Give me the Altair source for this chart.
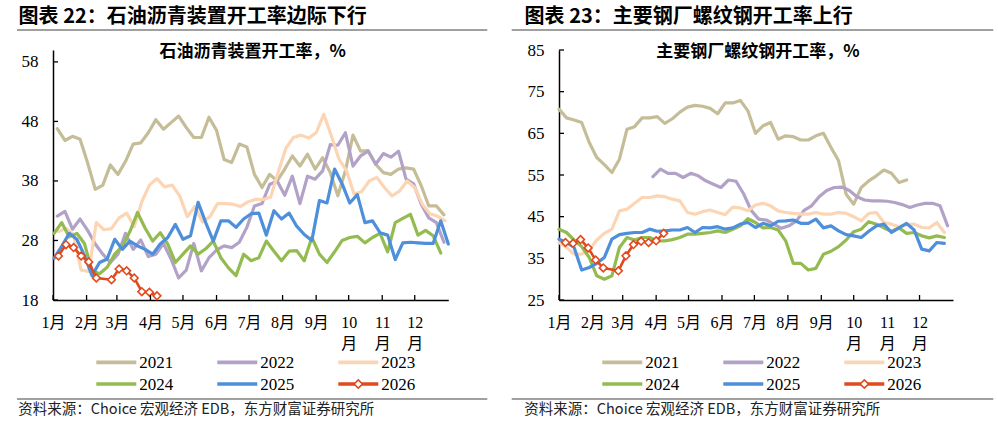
import altair as alt
import pandas as pd

# ---------------- data ----------------
YEARS = ["2021", "2022", "2023", "2024", "2025", "2026"]
COLORS = ["#C4BD97", "#B3A2C7", "#FCD5B5", "#94BB50", "#4D8FDA", "#E04A1E"]
MONTH_LABELS = ["1月", "2月", "3月", "4月", "5月", "6月", "7月", "8月", "9月", "10月", "11月", "12月"]
MONTH_START_DAYS = [0, 31, 59, 90, 120, 151, 181, 212, 243, 273, 304, 334]
DAYS_IN_YEAR = 365

SOURCE = "资料来源：Choice 宏观经济 EDB，东方财富证券研究所"

# Left: asphalt plant operating rate (weekly readings)
ASPHALT_HEADER = "图表 22：石油沥青装置开工率边际下行"
ASPHALT_TITLE = "石油沥青装置开工率，%"
ASPHALT_Y_TICKS = [18, 28, 38, 48, 58]
ASPHALT_Y_DOMAIN = [18, 60]
ASPHALT_FIRST_DAY = [4, 4, 5, 1, 1, 5]
ASPHALT_2021 = [46.8, 44.8, 45.5, 45.0, 41.0, 36.6, 37.3, 40.7, 39.1, 41.3,
                44.2, 44.4, 46.1, 48.3, 46.7, 47.8, 48.9, 47.0, 45.3, 45.3,
                48.7, 46.5, 41.6, 41.1, 44.2, 43.7, 39.1, 36.9, 39.1, 38.0,
                40.0, 42.2, 40.5, 42.5, 40.0, 41.9, 39.4, 35.5, 39.7, 45.7,
                43.0, 43.1, 40.8, 39.4, 39.1, 40.0, 40.2, 40.0, 37.2, 33.8,
                33.8, 32.3]
ASPHALT_2022 = [32.1, 32.9, 29.9, 31.6, 29.7, 27.4, 25.7, 24.3, 25.7, 29.2,
                26.5, 28.1, 25.3, 25.7, 27.5, 24.9, 21.7, 23.0, 27.5, 22.9,
                25.1, 26.4, 27.1, 26.8, 27.7, 30.2, 33.8, 34.2, 37.4, 38.0,
                35.6, 38.8, 34.2, 38.8, 38.3, 39.7, 44.1, 44.0, 46.1, 40.5,
                42.2, 43.0, 40.8, 42.6, 42.0, 43.0, 38.3, 37.5, 34.1, 31.8,
                31.0, 27.7]
ASPHALT_2023 = [29.5, 30.0, 29.0, 23.0, 22.8, 31.0, 29.8, 30.0, 31.8, 32.6,
                30.3, 34.5, 37.3, 38.4, 37.0, 37.3, 35.5, 32.0, 33.7, 31.1,
                32.0, 34.2, 34.2, 34.1, 33.7, 34.5, 34.9, 34.9, 35.3, 39.5,
                43.5, 45.3, 45.7, 45.2, 46.1, 49.2, 45.6, 41.7, 39.7, 35.8,
                36.2, 38.0, 38.6, 36.9, 35.5, 36.3, 38.0, 36.9, 34.1, 32.5,
                32.1, 31.3]
ASPHALT_2024 = [29.2, 31.0, 28.6, 29.2, 27.5, 22.9, 22.4, 23.5, 25.7, 27.0,
                29.5, 32.7, 30.1, 27.9, 29.3, 27.4, 24.3, 25.7, 27.1, 25.7,
                26.6, 27.9, 25.1, 23.4, 22.1, 25.7, 24.6, 25.1, 27.9, 26.2,
                24.6, 26.2, 26.3, 24.6, 28.5, 25.7, 24.3, 26.1, 28.0, 28.5,
                28.7, 27.6, 28.5, 29.2, 26.1, 31.0, 31.7, 32.4, 28.9, 29.7,
                28.8, 25.9]
ASPHALT_2025 = [25.0, 27.0, 29.2, 28.2, 25.5, 22.1, 24.3, 24.9, 28.2, 26.5,
                27.9, 27.1, 26.5, 25.7, 27.4, 28.5, 30.7, 28.2, 28.8, 34.4,
                31.0, 27.9, 31.3, 31.3, 30.2, 31.6, 32.5, 32.6, 28.9, 33.0,
                31.6, 32.6, 30.4, 29.0, 28.0, 34.7, 34.3, 40.0, 37.5, 34.3,
                35.7, 31.0, 31.3, 29.3, 28.9, 24.8, 27.6, 27.7, 27.6, 27.5,
                27.5, 31.3, 27.4]
ASPHALT_2026 = [25.4, 27.3, 26.8, 25.4, 24.4, 21.7, None, 21.4, 23.2, 22.9,
                21.7, 19.4, 19.3, 18.7]

# Right: rebar operating rate at major steel mills (weekly readings)
REBAR_HEADER = "图表 23：主要钢厂螺纹钢开工率上行"
REBAR_TITLE = "主要钢厂螺纹钢开工率，%"
REBAR_Y_TICKS = [25, 35, 45, 55, 65, 75, 85]
REBAR_Y_DOMAIN = [25, 85]
REBAR_FIRST_DAY = [0, 87, 0, 0, 0, 6]
REBAR_2021 = [70.8, 68.7, 68.2, 67.6, 62.8, 59.2, 57.5, 55.6, 58.8, 66.0,
              66.6, 68.7, 68.7, 69.0, 67.4, 68.5, 70.1, 71.3, 71.7, 71.5,
              71.0, 69.7, 72.3, 72.3, 72.9, 70.4, 65.0, 66.8, 67.6, 63.6,
              64.4, 64.2, 63.4, 63.4, 64.4, 65.0, 61.6, 58.4, 50.4, 48.0,
              52.0, 53.6, 54.8, 56.2, 55.4, 53.2, 53.8]
REBAR_2022 = [54.6, 56.4, 55.4, 55.4, 54.4, 55.4, 54.8, 53.6, 52.8, 52.0,
              53.8, 53.5, 50.5, 46.5, 44.4, 44.2, 43.2, 42.2, 42.8, 44.0,
              46.5, 47.6, 49.8, 51.3, 52.0, 52.1, 51.3, 49.8, 49.0, 48.8,
              48.8, 48.7, 48.4, 47.9, 47.2, 47.8, 48.2, 48.2, 47.6, 42.8]
REBAR_2023 = [38.8, 37.6, 36.0, 36.0, 37.0, 39.4, 41.0, 42.0, 46.4, 46.8,
              48.2, 49.6, 49.6, 50.0, 49.8, 49.2, 48.8, 46.0, 45.6, 46.2,
              46.6, 46.0, 45.5, 47.3, 47.1, 46.4, 47.8, 48.2, 47.6, 46.4,
              46.0, 45.8, 45.6, 45.6, 46.0, 45.6, 45.6, 46.0, 45.8, 45.0,
              44.0, 45.8, 46.0, 43.6, 43.2, 42.6, 43.1, 43.2, 42.4, 42.3,
              43.6, 41.2]
REBAR_2024 = [42.0, 41.2, 39.4, 37.8, 35.2, 30.8, 30.0, 30.8, 37.6, 40.0,
              39.4, 40.0, 40.0, 39.2, 39.2, 39.5, 40.0, 40.8, 40.8, 41.0,
              41.2, 41.6, 41.2, 42.0, 42.8, 44.5, 43.6, 42.3, 42.4, 41.8,
              39.2, 33.8, 33.8, 32.2, 32.6, 36.0, 36.7, 37.8, 39.4, 41.4,
              42.0, 43.8, 43.2, 42.3, 41.5, 42.3, 41.0, 41.2, 40.4, 39.9,
              40.4, 40.0]
REBAR_2025 = [39.6, 38.8, 37.6, 32.2, 32.8, 33.8, 35.2, 39.6, 40.7, 41.0,
              41.2, 41.2, 42.0, 41.5, 41.6, 41.8, 41.8, 42.4, 41.2, 42.4,
              42.3, 42.6, 42.0, 42.3, 43.2, 43.6, 42.4, 43.4, 42.8, 43.9,
              44.0, 44.2, 43.4, 43.4, 44.4, 42.3, 42.8, 41.6, 40.7, 40.4,
              40.0, 41.5, 42.8, 43.2, 41.2, 42.3, 43.4, 41.8, 37.2, 36.8,
              38.8, 38.6]
REBAR_2026 = [38.8, 38.6, 39.5, 37.5, 34.6, 32.7, None, 32.0, 35.6, 38.3,
              39.1, 38.8, 39.2, 41.0]

SERIF = "Liberation Serif, Noto Sans CJK SC"
CJK = "Noto Sans CJK SC"
H = 250


def weekly_table(series, first_days):
    rows = []
    for year, values, first in zip(YEARS, series, first_days):
        for i, v in enumerate(values):
            if v is not None:
                rows.append({"year": year, "day": first + 7 * i, "value": v})
    return pd.DataFrame(rows)


def month_label_expr():
    parts = []
    for lbl in MONTH_LABELS:
        num = lbl[:-1]
        if len(num) > 1:
            parts.append("['%s','%s']" % (num, lbl[-1]))
        else:
            parts.append("'%s'" % lbl)
    days = ",".join(str(d) for d in MONTH_START_DAYS)
    return "[" + ",".join(parts) + "][indexof([" + days + "], datum.value)]"


def one_row():
    return pd.DataFrame({"k": [0]})


def panel(df, y_ticks, y_domain, header, title, width, rule_left, anchor):
    xs = alt.Scale(domain=[0, DAYS_IN_YEAR], nice=False, zero=False)
    ys = alt.Scale(domain=y_domain, nice=False, zero=False)
    x_axis = alt.Axis(values=MONTH_START_DAYS, labelExpr=month_label_expr(), ticks=False,
                      grid=False, domainColor="black", domainWidth=1.5, labelFont=SERIF,
                      labelFontSize=16, labelColor="black", labelPadding=14, labelAngle=0,
                      labelAlign="center", labelBaseline="top", labelLineHeight=21,
                      labelOverlap=False, labelFlush=False, title=None)
    y_axis = alt.Axis(values=y_ticks, ticks=False, grid=False, domainColor="black",
                      domainWidth=1.5, labelFont=SERIF, labelFontSize=17, labelColor="black",
                      labelPadding=15, labelOverlap=False, labelFlush=False, title=None)

    def X(field):
        return alt.X(field, scale=xs, axis=x_axis)

    def Y(field):
        return alt.Y(field, scale=ys, axis=y_axis)

    hist = df[df["year"] != YEARS[-1]]
    cur = df[df["year"] == YEARS[-1]]

    lines = alt.Chart(hist).mark_line(strokeWidth=3.2, strokeJoin="round", strokeCap="round").encode(
        x=X("day:Q"), y=Y("value:Q"),
        color=alt.Color("year:N", scale=alt.Scale(domain=YEARS, range=COLORS), legend=None),
    )
    cur_line = alt.Chart(cur).mark_line(strokeWidth=2.6, color=COLORS[-1], strokeJoin="round").encode(
        x=X("day:Q"), y=Y("value:Q"))
    cur_pts = alt.Chart(cur).mark_point(shape="diamond", filled=True, fill="white",
                                        stroke=COLORS[-1], strokeWidth=1.6, size=60,
                                        opacity=1).encode(x=X("day:Q"), y=Y("value:Q"))

    y_ticks_layer = alt.Chart(pd.DataFrame({"value": y_ticks})).mark_rule(
        color="black", strokeWidth=1.3).encode(
        y=Y("value:Q"), x=alt.value(0), x2=alt.value(5))
    x_ticks_layer = alt.Chart(pd.DataFrame({"day": MONTH_START_DAYS})).mark_rule(
        color="black", strokeWidth=1.3).encode(
        x=X("day:Q"), y=alt.value(H), y2=alt.value(H - 5))

    deco = []
    deco.append(alt.Chart(one_row()).mark_text(align="left", baseline="middle", font=CJK,
                                               fontSize=20, fontWeight="bold", color="black").encode(
        x=alt.value(-34.4), y=alt.value(-33.5), text=alt.value(header)))
    deco.append(alt.Chart(one_row()).mark_rule(color="#808080", strokeWidth=1.5).encode(
        x=alt.value(rule_left), x2=alt.value(434.3), y=alt.value(-20)))
    deco.append(alt.Chart(one_row()).mark_text(align="center", baseline="middle", font=CJK,
                                               fontSize=17, fontWeight="bold", color="black").encode(
        x=alt.value(width / 2 + 2), y=alt.value(1.7), text=alt.value(title)))
    # legend
    for i, (yr, col) in enumerate(zip(YEARS, COLORS)):
        cx = 43.3 + 121 * (i % 3)
        cy = 312.4 + 21.6 * (i // 3)
        deco.append(alt.Chart(one_row()).mark_rule(color=col, strokeWidth=3.6).encode(
            x=alt.value(cx), x2=alt.value(cx + 40), y=alt.value(cy)))
        if yr == YEARS[-1]:
            deco.append(alt.Chart(one_row()).mark_point(shape="diamond", filled=True, fill="white",
                                                        stroke=col, strokeWidth=1.6, size=70,
                                                        opacity=1).encode(
                x=alt.value(cx + 20), y=alt.value(cy)))
        deco.append(alt.Chart(one_row()).mark_text(align="left", baseline="middle", font=SERIF,
                                                   fontSize=17, color="black").encode(
            x=alt.value(cx + 43), y=alt.value(cy + 1), text=alt.value(yr)))
    deco.append(alt.Chart(one_row()).mark_rule(color="#808080", strokeWidth=1.5).encode(
        x=alt.value(rule_left), x2=alt.value(434.3), y=alt.value(349)))
    deco.append(alt.Chart(one_row()).mark_text(align="left", baseline="middle", font=CJK,
                                               fontSize=14.5, color="#222222").encode(
        x=alt.value(-34.7), y=alt.value(359.5), text=alt.value(SOURCE)))
    if anchor:
        deco.append(alt.Chart(one_row()).mark_square(size=1, color="white", opacity=1).encode(
            x=alt.value(-52.2), y=alt.value(-48.8)))

    return alt.layer(lines, cur_line, cur_pts, y_ticks_layer, x_ticks_layer, *deco).properties(
        width=width, height=H)


asphalt_df = weekly_table([ASPHALT_2021, ASPHALT_2022, ASPHALT_2023, ASPHALT_2024,
                           ASPHALT_2025, ASPHALT_2026], ASPHALT_FIRST_DAY)
rebar_df = weekly_table([REBAR_2021, REBAR_2022, REBAR_2023, REBAR_2024,
                         REBAR_2025, REBAR_2026], REBAR_FIRST_DAY)

left = panel(asphalt_df, ASPHALT_Y_TICKS, ASPHALT_Y_DOMAIN, ASPHALT_HEADER, ASPHALT_TITLE,
             395.3, -36.0, True)
right = panel(rebar_df, REBAR_Y_TICKS, REBAR_Y_DOMAIN, REBAR_HEADER, REBAR_TITLE,
              394, -47.3, False)

chart = alt.hconcat(left, right, spacing=110, bounds="flush").properties(
    padding=0, background="white"
).configure_view(strokeWidth=0)

chart.save("out.html", embed_options={"renderer": "svg", "actions": False})
